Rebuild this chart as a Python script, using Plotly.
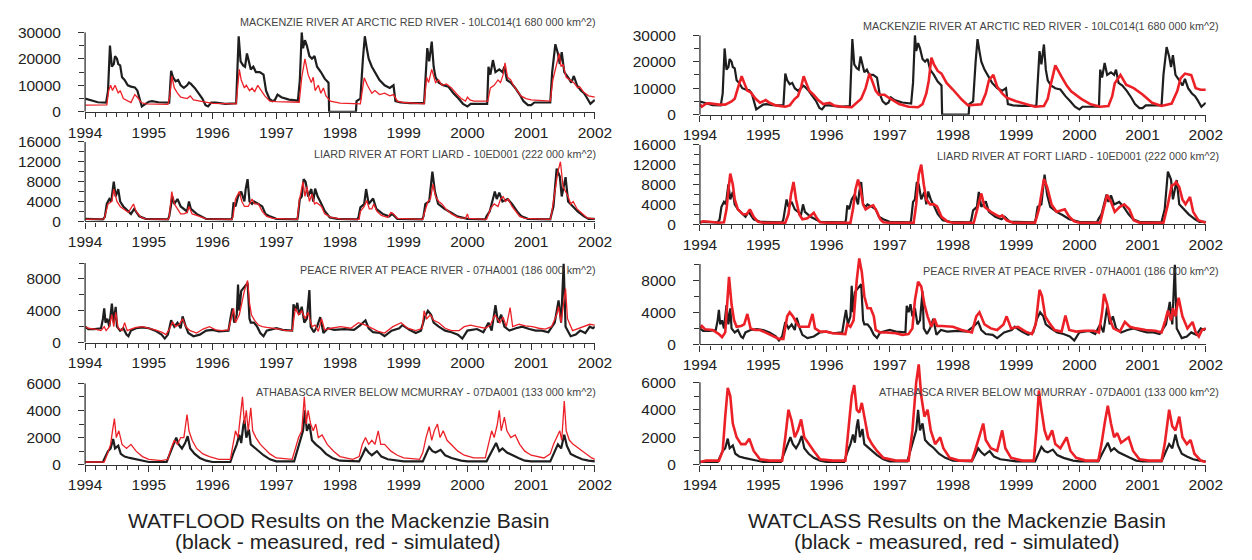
import plotly.graph_objects as go

# ---------------- data (decimal year, discharge m3/s) ----------------
MACKENZIE_MEASURED = [(1994.00,5000),(1994.10,4200),(1994.20,3600),(1994.33,3500),(1994.36,8000),(1994.39,25000),(1994.42,17000),(1994.45,18000),(1994.47,21000),(1994.50,20000),(1994.52,18000),(1994.55,17500),(1994.58,13000),(1994.62,12000),(1994.67,10000),(1994.72,9500),(1994.78,9200),(1994.82,8000),(1994.86,4000),(1994.89,2000),(1994.92,2500),(1995.00,3800),(1995.05,4000),(1995.15,3600),(1995.32,3500),(1995.35,15500),(1995.38,13000),(1995.42,11500),(1995.46,12000),(1995.50,10000),(1995.55,9000),(1995.60,10000),(1995.63,11000),(1995.66,10500),(1995.72,9000),(1995.78,7000),(1995.84,5000),(1995.89,2500),(1995.93,2000),(1995.98,3500),(1996.05,3500),(1996.20,3000),(1996.37,3200),(1996.41,28500),(1996.44,19000),(1996.48,17500),(1996.51,17000),(1996.54,22000),(1996.57,19000),(1996.60,16000),(1996.64,17000),(1996.68,15000),(1996.74,15000),(1996.80,14000),(1996.84,8000),(1996.89,5000),(1996.94,4000),(1996.98,4500),(1997.02,6500),(1997.08,5500),(1997.20,4600),(1997.34,4200),(1997.37,12000),(1997.40,30000),(1997.42,24000),(1997.45,27000),(1997.48,25000),(1997.52,21000),(1997.56,20000),(1997.60,21000),(1997.64,17000),(1997.70,15000),(1997.76,12500),(1997.82,11000),(1997.83,0),(1998.25,0),(1998.26,4000),(1998.32,5000),(1998.36,20000),(1998.39,28500),(1998.42,24000),(1998.45,20000),(1998.50,17000),(1998.55,15000),(1998.62,12000),(1998.70,10000),(1998.78,9000),(1998.84,10000),(1998.87,4000),(1998.95,3500),(1999.10,3300),(1999.32,3300),(1999.35,18000),(1999.37,24000),(1999.40,19000),(1999.44,26500),(1999.47,17000),(1999.50,13000),(1999.55,11000),(1999.62,10000),(1999.70,9500),(1999.78,7000),(1999.86,5000),(1999.93,3000),(2000.00,2000),(2000.05,3000),(2000.20,3000),(2000.31,3000),(2000.33,17000),(2000.36,14000),(2000.40,19500),(2000.44,15000),(2000.50,16000),(2000.55,15000),(2000.58,17000),(2000.62,12000),(2000.68,11000),(2000.75,9000),(2000.82,6500),(2000.88,4000),(2000.95,2500),(2001.00,2500),(2001.05,3500),(2001.20,3500),(2001.30,3500),(2001.33,15000),(2001.38,25500),(2001.42,22000),(2001.45,18000),(2001.48,22500),(2001.52,15000),(2001.58,13000),(2001.63,11000),(2001.67,13500),(2001.72,10000),(2001.78,8000),(2001.83,7000),(2001.87,5500),(2001.93,3000),(2002.00,4500)]

MACKENZIE_WATFLOOD = [(1994.00,2500),(1994.34,2600),(1994.37,8000),(1994.40,10000),(1994.43,8000),(1994.47,10000),(1994.52,7000),(1994.55,8000),(1994.60,5000),(1994.68,4000),(1994.72,3500),(1994.78,6500),(1994.82,5500),(1994.88,3500),(1994.95,3000),(1995.30,2800),(1995.33,6000),(1995.36,13500),(1995.40,9000),(1995.45,7000),(1995.50,5500),(1995.60,5000),(1995.65,6000),(1995.70,4500),(1995.80,4000),(1995.90,3500),(1996.00,3200),(1996.37,3000),(1996.39,8000),(1996.42,16000),(1996.45,12000),(1996.50,9000),(1996.53,10000),(1996.58,8000),(1996.62,9000),(1996.66,7500),(1996.71,10000),(1996.76,8000),(1996.82,6000),(1996.90,4000),(1997.00,3800),(1997.36,3600),(1997.40,13000),(1997.45,20000),(1997.50,14000),(1997.55,11000),(1997.58,13000),(1997.61,8000),(1997.66,10000),(1997.70,7000),(1997.74,9000),(1997.78,6000),(1997.85,4000),(1998.00,3300),(1998.20,3000),(1998.32,3000),(1998.35,8000),(1998.38,12800),(1998.43,10000),(1998.50,7000),(1998.55,8000),(1998.62,6500),(1998.70,7000),(1998.78,6000),(1998.84,6500),(1998.90,4000),(1999.00,3500),(1999.32,3000),(1999.36,13000),(1999.39,11000),(1999.44,16000),(1999.50,11000),(1999.55,12000),(1999.60,10000),(1999.67,10500),(1999.75,9000),(1999.82,7000),(1999.90,5000),(1999.97,4000),(2000.00,5500),(2000.04,4500),(2000.10,4000),(2000.32,4000),(2000.36,9000),(2000.42,10000),(2000.48,12000),(2000.52,11000),(2000.56,14000),(2000.59,18500),(2000.63,13000),(2000.68,12000),(2000.72,10000),(2000.78,8000),(2000.84,6000),(2000.92,5000),(2001.00,4500),(2001.30,4000),(2001.34,12000),(2001.40,18000),(2001.44,22000),(2001.47,17000),(2001.50,18000),(2001.55,13000),(2001.62,12000),(2001.67,11000),(2001.73,9000),(2001.76,9500),(2001.82,7500),(2001.90,6000),(2002.00,5500)]

MACKENZIE_WATCLASS = [(1994.00,4000),(1994.03,3000),(1994.10,4200),(1994.15,4300),(1994.30,3800),(1994.40,3800),(1994.50,5000),(1994.55,6000),(1994.60,10000),(1994.66,14500),(1994.70,12000),(1994.75,9000),(1994.80,8500),(1994.88,6000),(1994.95,4500),(1995.04,5500),(1995.10,4500),(1995.20,3500),(1995.35,3000),(1995.42,3500),(1995.50,6000),(1995.55,7000),(1995.60,10500),(1995.64,14500),(1995.68,12000),(1995.73,9000),(1995.80,7500),(1995.87,5500),(1995.95,4000),(1996.05,4500),(1996.12,3500),(1996.25,3000),(1996.40,2800),(1996.45,4000),(1996.55,6000),(1996.62,10000),(1996.68,15500),(1996.72,13000),(1996.78,9000),(1996.83,7500),(1996.92,7500),(1996.98,6500),(1997.05,5500),(1997.15,4000),(1997.30,3000),(1997.45,2800),(1997.52,4000),(1997.58,8000),(1997.62,13000),(1997.66,21500),(1997.70,19000),(1997.76,16500),(1997.82,15500),(1997.90,12000),(1998.00,9500),(1998.14,5700),(1998.24,3500),(1998.45,3900),(1998.52,8000),(1998.57,13000),(1998.64,15000),(1998.70,10600),(1998.78,8000),(1998.85,6400),(1999.00,5100),(1999.15,3900),(1999.30,3000),(1999.44,3300),(1999.50,6000),(1999.54,10600),(1999.62,18600),(1999.72,14300),(1999.80,11000),(1999.87,8800),(2000.03,6000),(2000.18,3900),(2000.33,3000),(2000.46,3300),(2000.52,7000),(2000.56,11900),(2000.65,15000),(2000.74,11300),(2000.86,10000),(2001.00,7600),(2001.15,4500),(2001.30,3300),(2001.46,4200),(2001.55,9000),(2001.60,13700),(2001.67,15500),(2001.77,14900),(2001.84,10000),(2001.92,9400),(2002.00,9400)]

LIARD_MEASURED = [(1994.00,500),(1994.28,400),(1994.31,900),(1994.34,3500),(1994.38,4500),(1994.41,4000),(1994.45,8000),(1994.48,5000),(1994.52,6500),(1994.55,4000),(1994.60,3000),(1994.68,2000),(1994.72,1500),(1994.77,2500),(1994.80,2000),(1994.85,1000),(1994.95,500),(1995.30,400),(1995.32,1000),(1995.34,2500),(1995.37,5000),(1995.40,3500),(1995.45,4500),(1995.50,3000),(1995.55,2500),(1995.60,2000),(1995.63,4000),(1995.66,2500),(1995.75,1500),(1995.82,1000),(1995.90,500),(1996.30,400),(1996.31,1000),(1996.33,3800),(1996.36,3000),(1996.40,5000),(1996.45,6000),(1996.50,4000),(1996.52,6500),(1996.55,8500),(1996.58,4000),(1996.62,3500),(1996.65,4000),(1996.72,3500),(1996.78,3000),(1996.83,1500),(1996.90,1000),(1997.00,500),(1997.33,400),(1997.34,1000),(1997.37,4500),(1997.40,5000),(1997.43,8500),(1997.46,8000),(1997.50,5000),(1997.55,6500),(1997.58,4000),(1997.61,6600),(1997.65,5000),(1997.69,4000),(1997.76,2100),(1997.84,800),(1997.96,500),(1998.27,400),(1998.29,800),(1998.32,2800),(1998.38,3500),(1998.41,6500),(1998.45,3500),(1998.52,4600),(1998.57,2500),(1998.67,1500),(1998.77,1000),(1998.82,1500),(1998.90,500),(1999.29,400),(1999.31,1000),(1999.34,3500),(1999.40,4000),(1999.45,10000),(1999.49,6000),(1999.54,3500),(1999.64,2500),(1999.74,1800),(1999.84,1000),(2000.00,500),(2000.28,400),(2000.30,1000),(2000.35,2000),(2000.43,6000),(2000.46,4500),(2000.50,5800),(2000.55,4000),(2000.63,4500),(2000.70,3500),(2000.78,2000),(2000.85,1000),(2000.95,500),(2001.30,400),(2001.31,1000),(2001.35,3000),(2001.40,10600),(2001.45,9000),(2001.48,5000),(2001.54,8900),(2001.58,4000),(2001.66,3000),(2001.73,2000),(2001.83,1000),(2001.90,500),(2002.00,500)]

LIARD_WATFLOOD = [(1994.00,400),(1994.30,500),(1994.36,3500),(1994.42,4000),(1994.45,6500),(1994.50,4000),(1994.55,3000),(1994.60,2500),(1994.68,1800),(1994.76,3500),(1994.80,2000),(1994.88,800),(1994.95,500),(1995.30,400),(1995.32,800),(1995.36,6000),(1995.40,3500),(1995.45,2500),(1995.50,1500),(1995.55,1500),(1995.60,1800),(1995.63,3000),(1995.68,1500),(1995.75,1200),(1995.82,800),(1995.90,500),(1996.30,400),(1996.32,800),(1996.36,4500),(1996.42,6000),(1996.46,4000),(1996.50,3000),(1996.56,3000),(1996.62,4500),(1996.66,3500),(1996.72,3500),(1996.78,2000),(1996.85,1000),(1996.95,600),(1997.33,400),(1997.36,4000),(1997.42,8000),(1997.45,5000),(1997.48,7000),(1997.52,4000),(1997.56,5500),(1997.60,3500),(1997.63,3800),(1997.71,3000),(1997.76,1500),(1997.86,800),(1998.01,500),(1998.30,400),(1998.32,2000),(1998.38,3000),(1998.42,4200),(1998.46,2500),(1998.50,2500),(1998.53,3500),(1998.58,2000),(1998.65,1200),(1998.75,800),(1998.80,1800),(1998.84,1500),(1998.90,600),(1999.30,400),(1999.32,1500),(1999.38,4000),(1999.42,4500),(1999.46,7500),(1999.50,5000),(1999.55,4000),(1999.60,3500),(1999.66,2500),(1999.75,1500),(1999.85,800),(1999.97,600),(2000.00,1500),(2000.02,600),(2000.30,400),(2000.32,1000),(2000.36,2500),(2000.42,3500),(2000.48,3000),(2000.52,4500),(2000.56,5000),(2000.60,4000),(2000.64,4500),(2000.70,3000),(2000.76,2000),(2000.82,1000),(2000.90,600),(2001.30,400),(2001.32,1500),(2001.37,6000),(2001.42,10000),(2001.46,12000),(2001.50,7000),(2001.54,6000),(2001.58,5000),(2001.62,3500),(2001.66,4000),(2001.72,2500),(2001.80,1500),(2001.88,700),(2002.00,500)]

LIARD_WATCLASS = [(1994.00,300),(1994.05,600),(1994.15,500),(1994.30,300),(1994.38,400),(1994.42,3000),(1994.46,8000),(1994.48,10200),(1994.52,8000),(1994.55,5000),(1994.60,3000),(1994.68,2000),(1994.74,2000),(1994.79,3000),(1994.85,1500),(1994.92,500),(1995.00,300),(1995.35,300),(1995.40,2000),(1995.44,6000),(1995.48,8500),(1995.52,5000),(1995.57,2000),(1995.62,1000),(1995.70,1200),(1995.80,2300),(1995.85,1200),(1995.90,400),(1996.00,300),(1996.38,300),(1996.42,3000),(1996.46,7000),(1996.50,9000),(1996.54,7000),(1996.58,4000),(1996.62,3000),(1996.68,3500),(1996.74,3800),(1996.80,2500),(1996.85,1000),(1996.90,400),(1997.00,300),(1997.38,300),(1997.42,4000),(1997.46,10000),(1997.50,12000),(1997.54,8000),(1997.58,5000),(1997.64,4000),(1997.70,4000),(1997.75,3600),(1997.82,1500),(1997.92,500),(1998.00,300),(1998.33,300),(1998.38,3000),(1998.45,6200),(1998.50,3500),(1998.60,2500),(1998.74,1500),(1998.78,1800),(1998.85,800),(1998.95,300),(1999.30,300),(1999.36,3000),(1999.44,9100),(1999.49,7500),(1999.56,4000),(1999.64,2500),(1999.72,2800),(1999.77,3000),(1999.84,1500),(1999.92,600),(2000.00,300),(2000.33,300),(2000.38,3000),(2000.44,5900),(2000.50,4500),(2000.56,2500),(2000.64,3500),(2000.71,4000),(2000.79,3000),(2000.86,800),(2000.95,300),(2001.33,300),(2001.40,4000),(2001.46,7800),(2001.50,8000),(2001.53,8500),(2001.58,7500),(2001.63,5000),(2001.68,4000),(2001.75,5500),(2001.80,2500),(2001.88,800),(2002.00,300)]

PEACE_MEASURED = [(1994.00,2000),(1994.05,1700),(1994.15,1700),(1994.25,1800),(1994.28,3000),(1994.30,4300),(1994.32,2500),(1994.35,3000),(1994.38,2000),(1994.42,4900),(1994.45,2500),(1994.48,4500),(1994.50,2000),(1994.55,1500),(1994.60,1800),(1994.65,1000),(1994.68,800),(1994.72,1500),(1994.80,1800),(1994.90,1900),(1995.00,1800),(1995.10,1500),(1995.20,1000),(1995.25,500),(1995.30,1000),(1995.35,2800),(1995.40,2000),(1995.45,2500),(1995.50,1800),(1995.53,3300),(1995.58,2000),(1995.62,1200),(1995.70,800),(1995.80,1000),(1995.90,1500),(1996.00,1600),(1996.10,1400),(1996.25,1500),(1996.28,3000),(1996.31,4300),(1996.34,2500),(1996.38,3500),(1996.40,7300),(1996.42,4000),(1996.45,6500),(1996.50,7000),(1996.55,7500),(1996.58,3000),(1996.60,2500),(1996.65,2500),(1996.70,2000),(1996.75,1200),(1996.80,800),(1996.85,1500),(1996.95,1700),(1997.00,1800),(1997.10,1600),(1997.25,1500),(1997.27,4800),(1997.30,4000),(1997.33,5000),(1997.36,3500),(1997.40,4500),(1997.44,2500),(1997.48,3000),(1997.52,6600),(1997.54,2000),(1997.59,1300),(1997.64,2000),(1997.69,3200),(1997.74,1200),(1997.81,1800),(1997.91,1600),(1998.07,1700),(1998.22,1600),(1998.32,2200),(1998.40,2800),(1998.45,1800),(1998.52,1300),(1998.63,1200),(1998.70,800),(1998.81,1500),(1998.93,1800),(1998.98,2200),(1999.09,1600),(1999.19,1200),(1999.27,1500),(1999.33,3200),(1999.38,4000),(1999.43,3500),(1999.47,2500),(1999.55,2000),(1999.65,1500),(1999.75,1300),(1999.85,1000),(1999.92,500),(2000.00,1500),(2000.15,1700),(2000.25,1300),(2000.33,2500),(2000.38,1500),(2000.44,4700),(2000.48,2500),(2000.53,3500),(2000.58,2000),(2000.66,1500),(2000.76,1800),(2000.86,2000),(2000.97,1700),(2001.07,1500),(2001.17,1500),(2001.27,1300),(2001.37,2500),(2001.43,5300),(2001.47,2500),(2001.51,9900),(2001.54,2000),(2001.62,800),(2001.70,1000),(2001.77,1500),(2001.85,1200),(2001.92,2000),(2001.97,1800),(2002.00,2000)]

PEACE_WATFLOOD = [(1994.00,2000),(1994.05,1800),(1994.15,1700),(1994.25,1500),(1994.30,2000),(1994.33,1500),(1994.38,2000),(1994.42,3500),(1994.45,2000),(1994.48,3800),(1994.52,1800),(1994.58,1500),(1994.62,2500),(1994.66,1500),(1994.72,1700),(1994.80,1900),(1994.90,2000),(1995.00,1800),(1995.10,1600),(1995.20,1300),(1995.27,1000),(1995.33,1800),(1995.37,2600),(1995.42,2000),(1995.48,2300),(1995.53,3000),(1995.58,2000),(1995.65,1500),(1995.75,1200),(1995.85,1700),(1995.95,2000),(1996.05,1600),(1996.15,1500),(1996.25,1600),(1996.30,3500),(1996.33,4300),(1996.36,2500),(1996.42,3500),(1996.46,5000),(1996.50,6500),(1996.55,7800),(1996.58,5000),(1996.61,3500),(1996.66,2800),(1996.72,2200),(1996.78,2000),(1996.85,1900),(1996.95,1800),(1997.05,1700),(1997.15,1500),(1997.25,1500),(1997.30,4300),(1997.35,3500),(1997.40,4000),(1997.45,3000),(1997.50,3800),(1997.56,2000),(1997.61,2200),(1997.66,1400),(1997.71,3000),(1997.76,1600),(1997.86,1800),(1998.01,2000),(1998.17,1800),(1998.29,2500),(1998.40,2200),(1998.50,1800),(1998.60,1400),(1998.70,1200),(1998.83,2000),(1998.96,2500),(1999.06,1800),(1999.19,1500),(1999.29,1800),(1999.32,4000),(1999.36,3000),(1999.42,3500),(1999.47,2800),(1999.55,2500),(1999.65,1800),(1999.75,1500),(1999.87,1500),(1999.95,2000),(2000.05,2200),(2000.15,2000),(2000.28,1800),(2000.36,2200),(2000.43,3500),(2000.51,2500),(2000.56,3200),(2000.61,2000),(2000.67,4400),(2000.71,2000),(2000.81,2300),(2000.91,2100),(2001.02,2000),(2001.12,1800),(2001.22,1700),(2001.32,2000),(2001.40,3500),(2001.43,4500),(2001.47,2500),(2001.54,6800),(2001.57,3000),(2001.65,1500),(2001.75,1800),(2001.82,2000),(2001.92,2300),(2002.00,2200)]

PEACE_WATCLASS = [(1994.00,2000),(1994.03,2300),(1994.08,1900),(1994.20,1800),(1994.30,1300),(1994.35,900),(1994.40,1500),(1994.43,5000),(1994.46,8400),(1994.50,5000),(1994.54,3000),(1994.58,2200),(1994.65,2300),(1994.70,2500),(1994.75,3800),(1994.80,2000),(1994.87,1800),(1994.95,1800),(1995.05,1400),(1995.15,1000),(1995.25,700),(1995.32,700),(1995.38,3500),(1995.42,4000),(1995.47,3500),(1995.52,2800),(1995.57,2200),(1995.72,2200),(1995.75,3000),(1995.78,3800),(1995.82,2000),(1995.90,1600),(1996.00,1600),(1996.10,1400),(1996.30,1300),(1996.33,2500),(1996.38,2200),(1996.43,3000),(1996.48,8000),(1996.52,10700),(1996.56,9000),(1996.60,6000),(1996.65,4500),(1996.70,4500),(1996.75,3500),(1996.78,1800),(1996.85,1500),(1996.95,1500),(1997.10,1400),(1997.20,1200),(1997.30,1300),(1997.36,2000),(1997.40,5500),(1997.45,7800),(1997.50,7200),(1997.55,5000),(1997.60,3500),(1997.66,2200),(1997.71,3200),(1997.75,2300),(1997.83,2300),(1998.00,2200),(1998.14,1800),(1998.30,1500),(1998.37,3500),(1998.42,4000),(1998.50,2500),(1998.60,2000),(1998.70,1800),(1998.80,2500),(1998.85,3500),(1998.92,2000),(1999.03,2200),(1999.15,1600),(1999.25,1300),(1999.31,2500),(1999.37,6800),(1999.41,6000),(1999.46,3500),(1999.54,2500),(1999.61,1800),(1999.72,1600),(1999.78,3600),(1999.84,1800),(1999.95,1600),(2000.08,1700),(2000.23,1700),(2000.31,1500),(2000.36,4000),(2000.39,6300),(2000.44,5000),(2000.49,3000),(2000.54,2000),(2000.64,1600),(2000.72,2800),(2000.80,2200),(2000.90,2000),(2001.05,1800),(2001.20,1700),(2001.30,1500),(2001.36,3000),(2001.40,4200),(2001.45,3000),(2001.48,4500),(2001.52,3500),(2001.57,5800),(2001.63,3500),(2001.71,2000),(2001.79,2800),(2001.84,1500),(2001.89,1000),(2001.94,1800),(2002.00,2000)]

ATHABASCA_MEASURED = [(1994.00,200),(1994.28,200),(1994.32,600),(1994.36,1000),(1994.40,1200),(1994.44,1900),(1994.47,1200),(1994.52,1400),(1994.56,800),(1994.62,600),(1994.70,500),(1994.80,400),(1994.90,300),(1995.00,200),(1995.28,200),(1995.33,800),(1995.38,1400),(1995.43,2000),(1995.47,1500),(1995.52,1200),(1995.57,1600),(1995.61,2100),(1995.65,1200),(1995.72,800),(1995.80,500),(1995.90,300),(1996.00,200),(1996.28,200),(1996.33,900),(1996.38,1500),(1996.42,2200),(1996.45,1600),(1996.48,2800),(1996.50,3300),(1996.53,2000),(1996.57,2600),(1996.60,1500),(1996.65,1300),(1996.72,1000),(1996.80,700),(1996.90,400),(1997.00,250),(1997.28,250),(1997.33,1000),(1997.38,1800),(1997.42,2500),(1997.45,4000),(1997.48,2500),(1997.52,3000),(1997.56,1800),(1997.62,1500),(1997.70,1200),(1997.78,800),(1997.88,500),(1998.00,300),(1998.30,250),(1998.35,700),(1998.40,1200),(1998.45,900),(1998.50,700),(1998.58,1000),(1998.65,600),(1998.75,400),(1998.90,300),(1999.00,250),(1999.30,250),(1999.35,800),(1999.40,1300),(1999.45,1000),(1999.50,900),(1999.58,1100),(1999.65,700),(1999.75,500),(1999.90,300),(2000.00,250),(2000.30,250),(2000.35,700),(2000.40,1200),(2000.45,1600),(2000.50,1000),(2000.55,1200),(2000.62,900),(2000.70,700),(2000.80,500),(2000.90,300),(2001.00,250),(2001.30,250),(2001.35,800),(2001.42,1500),(2001.47,1200),(2001.52,2200),(2001.56,1400),(2001.62,800),(2001.70,600),(2001.80,400),(2001.90,300),(2002.00,250)]

ATHABASCA_WATFLOOD = [(1994.00,200),(1994.30,200),(1994.35,800),(1994.40,1500),(1994.43,2500),(1994.46,3400),(1994.49,2000),(1994.53,2500),(1994.58,1500),(1994.65,1200),(1994.72,1500),(1994.80,1000),(1994.90,600),(1995.00,400),(1995.20,300),(1995.30,400),(1995.35,1200),(1995.40,1800),(1995.45,1500),(1995.50,2000),(1995.55,2000),(1995.60,3700),(1995.63,2500),(1995.68,1800),(1995.75,1200),(1995.85,800),(1995.95,600),(1996.10,400),(1996.28,400),(1996.32,1500),(1996.36,2500),(1996.40,2000),(1996.44,3500),(1996.47,5000),(1996.50,3000),(1996.53,4000),(1996.56,2500),(1996.60,4200),(1996.63,2500),(1996.68,2000),(1996.75,1500),(1996.82,1200),(1996.90,800),(1997.00,500),(1997.25,400),(1997.30,1200),(1997.35,2000),(1997.40,2500),(1997.44,5000),(1997.47,3000),(1997.50,4000),(1997.54,3000),(1997.58,2500),(1997.62,3000),(1997.66,2000),(1997.72,2200),(1997.80,1500),(1997.90,1000),(1998.00,600),(1998.20,400),(1998.30,600),(1998.35,1500),(1998.40,2000),(1998.45,1500),(1998.50,1800),(1998.55,1500),(1998.60,2500),(1998.64,1500),(1998.70,1500),(1998.80,1000),(1998.90,700),(1999.00,500),(1999.25,400),(1999.30,900),(1999.35,2000),(1999.40,2800),(1999.44,1800),(1999.48,2500),(1999.53,3000),(1999.57,2000),(1999.62,2500),(1999.68,1800),(1999.75,1500),(1999.85,1000),(1999.95,700),(2000.10,500),(2000.28,500),(2000.33,1500),(2000.38,2500),(2000.42,2000),(2000.47,3000),(2000.50,4000),(2000.53,2500),(2000.58,3500),(2000.62,2500),(2000.68,2000),(2000.75,2200),(2000.82,1500),(2000.90,1000),(2001.00,700),(2001.20,500),(2001.30,800),(2001.35,1500),(2001.40,2000),(2001.45,2500),(2001.48,1800),(2001.52,4700),(2001.55,2500),(2001.60,1800),(2001.66,1500),(2001.75,1200),(2001.85,800),(2001.95,500),(2002.00,400)]

ATHABASCA_WATCLASS = [(1994.00,200),(1994.10,300),(1994.30,300),(1994.36,1000),(1994.40,3500),(1994.44,5600),(1994.48,5000),(1994.52,3000),(1994.58,2000),(1994.65,1500),(1994.72,1500),(1994.78,1900),(1994.85,1000),(1994.95,400),(1995.10,300),(1995.30,300),(1995.35,2000),(1995.40,4000),(1995.45,3200),(1995.50,2000),(1995.55,2500),(1995.60,3300),(1995.65,2000),(1995.72,1500),(1995.80,1000),(1995.90,400),(1996.10,300),(1996.30,300),(1996.35,2500),(1996.40,5000),(1996.44,5800),(1996.48,4000),(1996.52,3800),(1996.56,4500),(1996.60,3500),(1996.66,2000),(1996.72,1500),(1996.80,1000),(1996.90,500),(1997.10,300),(1997.30,300),(1997.36,2500),(1997.42,6000),(1997.46,7300),(1997.50,5000),(1997.55,3500),(1997.60,4000),(1997.65,2500),(1997.72,1500),(1997.80,2000),(1997.85,1200),(1997.95,500),(1998.10,300),(1998.30,300),(1998.35,1000),(1998.42,2000),(1998.48,3000),(1998.52,1800),(1998.60,1200),(1998.70,1000),(1998.78,2500),(1998.83,1200),(1998.92,500),(1999.10,300),(1999.28,300),(1999.32,2500),(1999.36,5400),(1999.40,4000),(1999.45,2500),(1999.50,1800),(1999.57,2500),(1999.62,1500),(1999.70,1200),(1999.80,2000),(1999.86,1000),(1999.95,500),(2000.10,300),(2000.30,300),(2000.35,1500),(2000.40,3000),(2000.45,4300),(2000.50,3000),(2000.55,2000),(2000.60,2300),(2000.66,1600),(2000.72,1800),(2000.78,2000),(2000.85,1000),(2000.95,400),(2001.10,300),(2001.30,300),(2001.35,1500),(2001.42,4000),(2001.47,2800),(2001.52,2500),(2001.58,3500),(2001.63,2000),(2001.70,1500),(2001.76,1800),(2001.82,800),(2001.92,300),(2002.00,200)]

STATION_TITLES = [
    "MACKENZIE RIVER AT ARCTIC RED RIVER - 10LC014(1 680 000 km^2)",
    "LIARD RIVER AT FORT LIARD - 10ED001 (222 000 km^2)",
    "PEACE RIVER AT PEACE RIVER - 07HA001 (186 000 km^2)",
    "ATHABASCA RIVER BELOW MCMURRAY - 07DA001 (133 000 km^2)",
]
YEARS = list(range(1994, 2003))
MEASURED = [MACKENZIE_MEASURED, LIARD_MEASURED, PEACE_MEASURED, ATHABASCA_MEASURED]
SIM_WATFLOOD = [MACKENZIE_WATFLOOD, LIARD_WATFLOOD, PEACE_WATFLOOD, ATHABASCA_WATFLOOD]
SIM_WATCLASS = [MACKENZIE_WATCLASS, LIARD_WATCLASS, PEACE_WATCLASS, ATHABASCA_WATCLASS]
CAPTIONS = ["WATFLOOD Results on the Mackenzie Basin", "WATCLASS Results on the Mackenzie Basin"]
SUBCAPTION = "(black - measured, red - simulated)"

Y_MAJOR = [[0, 10000, 20000, 30000], [0, 4000, 8000, 12000, 16000], [0, 4000, 8000], [0, 2000, 4000, 6000]]
Y_MINOR = [list(range(0, 30001, 5000)), list(range(0, 16001, 2000)), list(range(0, 10001, 2000)), list(range(0, 6001, 1000))]
Y_TOP = [30000, 16000, 10000, 6000]

# ---------------- layout geometry (pixels) ----------------
W, H = 1252, 560
X_PX = [(70, 594), (702, 1222)]
# (pixel of top-of-range, pixel of zero, range max) per [row][col]
Y_PX = [
    [(24, 106, 30000), (27, 109, 30000)],
    [(137, 219, 16000), (140, 222, 16000)],
    [(262, 344, 10000), (254.7, 346, 11000)],
    [(386, 470, 6000), (363.7, 470, 7500)],
]
TITLE_Y = [[13, 18], [150, 152], [269, 270], [395, 395]]
TITLE_X = [597, 1238]

BLACK = "#1e1e1e"
RED = "#ec2027"
AXC = "#333333"
FONT = "Liberation Sans, Arial, sans-serif"

fig = go.Figure()
layout = {}
shapes = []
annotations = []
minor_years = [1994 + k / 6 for k in range(49)]

for row in range(4):
    for col in range(2):
        i = row * 2 + col + 1
        xa = "x" if i == 1 else f"x{i}"
        ya = "y" if i == 1 else f"y{i}"
        xk = "xaxis" if i == 1 else f"xaxis{i}"
        yk = "yaxis" if i == 1 else f"yaxis{i}"
        x0, x1 = X_PX[col]
        ytop, yzero, ymax = Y_PX[row][col]
        sim = SIM_WATFLOOD[row] if col == 0 else SIM_WATCLASS[row]
        obs = MEASURED[row]
        fig.add_trace(go.Scatter(x=[p[0] for p in obs], y=[p[1] for p in obs], mode="lines",
                                 line=dict(color=BLACK, width=2.2), xaxis=xa, yaxis=ya,
                                 showlegend=False, hoverinfo="skip"))
        fig.add_trace(go.Scatter(x=[p[0] for p in sim], y=[p[1] for p in sim], mode="lines",
                                 line=dict(color=RED, width=1.3 if col == 0 else 2.6), xaxis=xa, yaxis=ya,
                                 showlegend=False, hoverinfo="skip"))
        layout[xk] = dict(
            domain=[x0 / W, x1 / W], anchor=ya, range=[1994, 2002], showgrid=False, zeroline=False,
            showline=True, linecolor=AXC, linewidth=1.3,
            tickmode="array", tickvals=YEARS, ticktext=[str(y) for y in YEARS],
            ticks="outside", ticklen=6, tickwidth=1.3, tickcolor=AXC,
            tickfont=dict(family=FONT, size=15.5, color="#222"),
            minor=dict(tickmode="array", tickvals=minor_years, ticks="outside", ticklen=4,
                       tickwidth=1, tickcolor=AXC, showgrid=False),
        )
        layout[yk] = dict(
            domain=[1 - yzero / H, 1 - ytop / H], anchor=xa, range=[0, ymax], showgrid=False,
            zeroline=False, showline=False,
            tickmode="array", tickvals=Y_MAJOR[row], ticktext=[str(v) for v in Y_MAJOR[row]],
            ticks="outside", ticklen=6, tickwidth=1.3,
            tickcolor=AXC, ticklabelstandoff=14,
            tickfont=dict(family=FONT, size=15.5, color="#222"),
            minor=dict(tickmode="array", tickvals=Y_MINOR[row], ticks="outside", ticklen=5,
                       tickwidth=1, tickcolor=AXC, showgrid=False),
        )
        shapes.append(dict(type="line", xref=f"{xa} domain", yref=ya, x0=0, x1=0, y0=0, y1=Y_TOP[row],
                           line=dict(color=AXC, width=1.3)))
        annotations.append(dict(text=STATION_TITLES[row], xref="paper", yref="paper",
                                x=TITLE_X[col] / W, y=1 - TITLE_Y[row][col] / H, xanchor="right",
                                yanchor="middle", showarrow=False,
                                font=dict(family=FONT, size=10.8, color="#444")))

for col, cx in enumerate([330, 966]):
    annotations.append(dict(text=CAPTIONS[col], xref="paper", yref="paper", x=cx / W, y=1 - 527 / H,
                            xanchor="center", yanchor="middle", showarrow=False,
                            font=dict(family=FONT, size=21, color="#222")))
    annotations.append(dict(text=SUBCAPTION, xref="paper", yref="paper", x=cx / W, y=1 - 549 / H,
                            xanchor="center", yanchor="middle", showarrow=False,
                            font=dict(family=FONT, size=21, color="#222")))

fig.update_layout(**layout)
fig.update_layout(width=W, height=H, margin=dict(l=0, r=0, t=0, b=0), paper_bgcolor="white",
                  plot_bgcolor="white", shapes=shapes, annotations=annotations, showlegend=False)
fig.write_html("out.html")
